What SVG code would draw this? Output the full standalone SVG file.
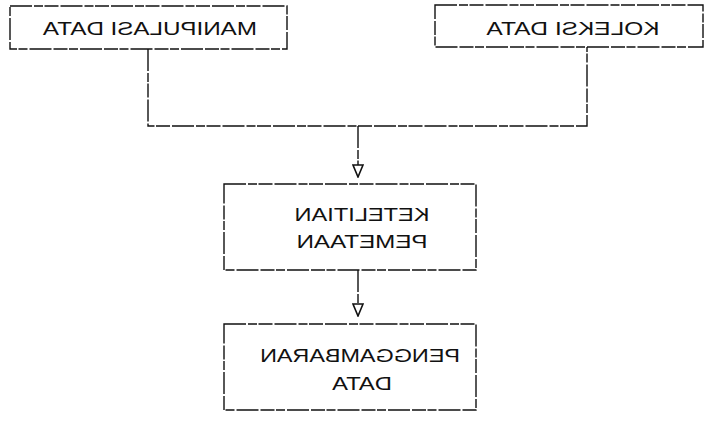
<svg xmlns="http://www.w3.org/2000/svg" width="706" height="423" viewBox="0 0 706 423">
<style>
.box{fill:#fff;stroke:#111;stroke-width:1.4;stroke-dasharray:22 2 9 1.5 14 2}
.con{fill:none;stroke:#111;stroke-width:1.4;stroke-dasharray:22 2 9 1.5 14 2}
.lbl{font-family:"Liberation Sans",Arial,sans-serif;font-size:19px;fill:#111;text-anchor:middle}
</style>
<defs>
<marker id="ah" viewBox="0 0 14 12" refX="13" refY="6" markerWidth="14" markerHeight="12" markerUnits="userSpaceOnUse" orient="auto">
<path d="M1,1 L13,6 L1,11 Z" fill="#fff" stroke="#111" stroke-width="1.6"/>
</marker>
</defs>
<rect width="706" height="423" fill="#fff"/>
<g id="connectors">
<path class="con" d="M148,49 V126 H587 V47"/>
<path class="con" d="M358,126 V177" marker-end="url(#ah)"/>
<path class="con" d="M358,270 V316" marker-end="url(#ah)"/>
</g>
<g id="manipulasi">
<rect class="box" x="10" y="6" width="277" height="43"/>
<text class="lbl" transform="matrix(-1 0 0 1 300 0)" x="150" y="35" textLength="214" lengthAdjust="spacingAndGlyphs">MANIPULASI DATA</text>
</g>
<g id="koleksi">
<rect class="box" x="435" y="5" width="268" height="42"/>
<text class="lbl" transform="matrix(-1 0 0 1 1146 0)" x="573" y="35" textLength="173" lengthAdjust="spacingAndGlyphs">KOLEKSI DATA</text>
</g>
<g id="ketelitian">
<rect class="box" x="224" y="184" width="252" height="86"/>
<text class="lbl" transform="matrix(-1 0 0 1 724 0)" x="362" y="221" textLength="135" lengthAdjust="spacingAndGlyphs">KETELITIAN</text>
<text class="lbl" transform="matrix(-1 0 0 1 724 0)" x="362" y="248" textLength="131" lengthAdjust="spacingAndGlyphs">PEMETAAN</text>
</g>
<g id="penggambaran">
<rect class="box" x="224" y="324" width="252" height="86"/>
<text class="lbl" transform="matrix(-1 0 0 1 720 0)" x="360" y="362" textLength="200" lengthAdjust="spacingAndGlyphs">PENGGAMBARAN</text>
<text class="lbl" transform="matrix(-1 0 0 1 724 0)" x="362" y="390" textLength="60" lengthAdjust="spacingAndGlyphs">DATA</text>
</g>
</svg>
